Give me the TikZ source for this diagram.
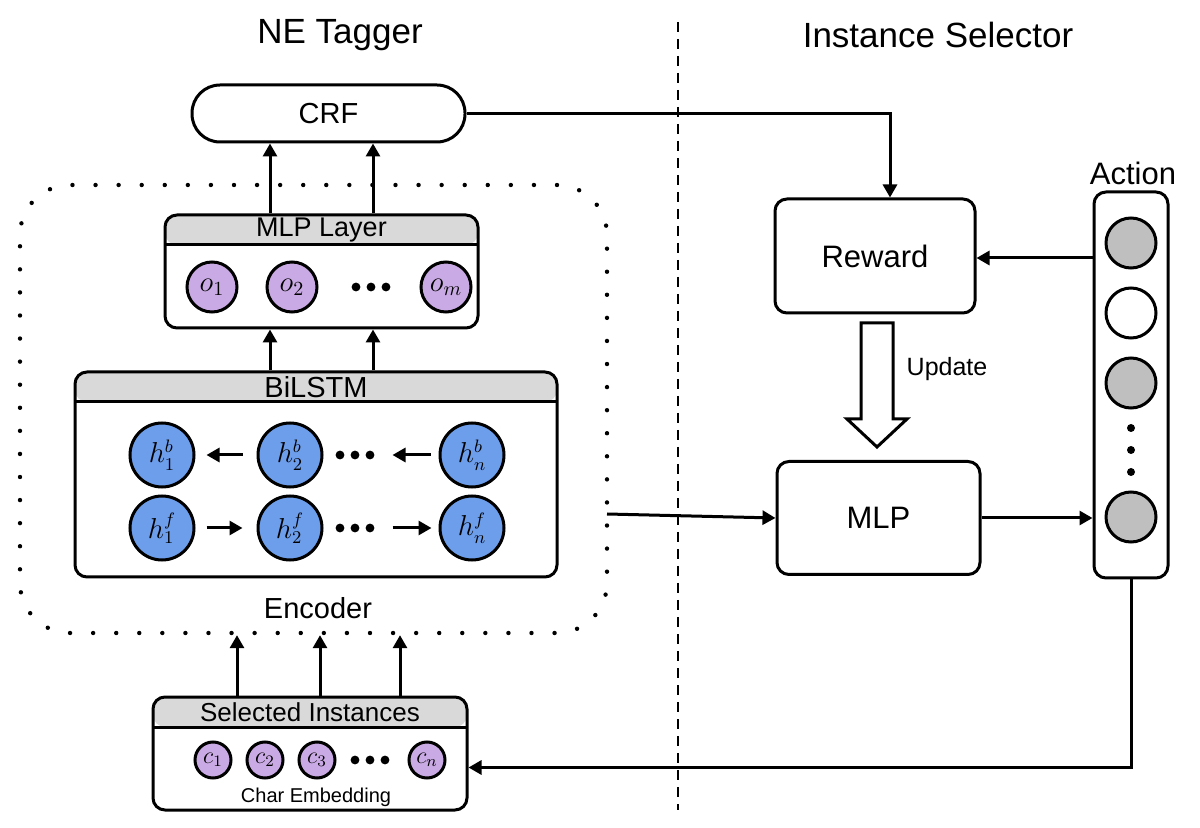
\documentclass[tikz,border=0pt]{standalone}
\usepackage{fontspec}
\setmainfont{Liberation Sans}
\usetikzlibrary{arrows.meta,calc}
\definecolor{hdr}{RGB}{217,217,217}
\definecolor{purp}{RGB}{202,170,228}
\definecolor{hblue}{RGB}{109,158,235}
\definecolor{agray}{RGB}{191,191,191}
\newcommand{\fs}[1]{\fontsize{#1}{#1}\selectfont}
\tikzset{
  lw/.style={line width=1.5pt},
  arr/.style={line width=1.5pt,-{Triangle[length=6.5pt,width=7pt]}},
  box/.style={draw,line width=1.5pt,rounded corners=6pt,fill=white,inner sep=0pt},
  hbox/.style={box,path picture={
      \fill[hdr] (path picture bounding box.north west) rectangle ([yshift=-#1]path picture bounding box.north east);
      \draw[line width=1.5pt] ([yshift=-#1]path picture bounding box.north west) -- ([yshift=-#1]path picture bounding box.north east);}},
  ocirc/.style={circle,draw,line width=1.5pt,fill=purp,minimum size=25pt,inner sep=0pt,font=\fs{14pt}},
  hcirc/.style={circle,draw,line width=1.5pt,fill=hblue,minimum size=32pt,inner sep=0pt,font=\fs{13.5pt}},
  ccirc/.style={circle,draw,line width=1.5pt,fill=purp,minimum size=18pt,inner sep=0pt,font=\fs{12pt}},
  acirc/.style={circle,draw,line width=1.5pt,minimum size=25pt,inner sep=0pt},
  encframe/.style={draw,line width=2.2pt,line cap=round,dash pattern=on 0pt off 11.536pt,rounded corners=25pt,inner sep=0pt},
  sepline/.style={line width=1pt,dash pattern=on 5pt off 3.5pt},
  dotmark/.style={fill=black},
}
\begin{document}
\begin{tikzpicture}[x=0.5pt,y=-0.5pt]
\useasboundingbox (0,0) rectangle (1200,828);

% titles
\node[font=\fs{17.5pt}] (t1) at (340,35) {NE Tagger};
\node[font=\fs{17.5pt}] (t2) at (938,35) {Instance Selector};
\draw[sepline] (678,22) -- (678,810);

% encoder frame
\node[encframe,minimum width=293.5pt,minimum height=224pt] (encbox) at (313.5,409) {};
\node[font=\fs{14.5pt}] (enclab) at (318,608) {Encoder};

% CRF
\node[box,rounded corners=14pt,minimum width=136.5pt,minimum height=28.5pt,font=\fs{14.5pt}] (crf) at (328.5,113.5) {CRF};

% MLP layer
\node[hbox=15pt,minimum width=156.5pt,minimum height=56.5pt] (mlpl) at (321.5,271.5) {};
\node[font=\fs{13.5pt}] (mlplab) at (321.5,230) {MLP Layer};
\node[ocirc] (o1) at (212,287) {$o_1$};
\node[ocirc] (o2) at (292,287) {$o_2$};
\node[ocirc] (om) at (446,287) {$o_m$};
\foreach \x in {356,371,386} \fill[dotmark] (\x,287) circle (2.2pt);

% BiLSTM
\node[hbox=15pt,minimum width=241pt,minimum height=102.5pt] (bil) at (316,474.5) {};
\node[font=\fs{14.5pt}] (billab) at (316,387) {BiLSTM};
\node[hcirc] (h1b) at (162,455) {$h_1^b$};
\node[hcirc] (h2b) at (290,455) {$h_2^b$};
\node[hcirc] (hnb) at (472,455) {$h_n^b$};
\node[hcirc] (h1f) at (162,528) {$h_1^f$};
\node[hcirc] (h2f) at (290,528) {$h_2^f$};
\node[hcirc] (hnf) at (472,528) {$h_n^f$};
\foreach \x in {340,355,370} {\fill[dotmark] (\x,455) circle (2.2pt); \fill[dotmark] (\x,528) circle (2.2pt);}
\draw[arr] ([xshift=-7pt]h2b.west) -- ([xshift=5.5pt]h1b.east);
\draw[arr] ([xshift=5.5pt]h1f.east) -- ([xshift=-7pt]h2f.west);
\coordinate (nbs) at ($(hnb.west)+(-8,0)$);
\draw[arr] (nbs) -- ++(-38,0);
\coordinate (nfs) at ($(hnf.west)+(-46,0)$);
\draw[arr] (nfs) -- ($(hnf.west)+(-7,0)$);

% arrows BiLSTM -> MLP layer -> CRF
\coordinate (m1) at ($(mlpl.north)+(-51.5,0)$);
\coordinate (m2) at ($(mlpl.north)+(51.5,0)$);
\draw[arr] (m1) -- (m1 |- crf.south);
\draw[arr] (m2) -- (m2 |- crf.south);
\draw[arr] (m1 |- bil.north) -- (m1 |- mlpl.south);
\draw[arr] (m2 |- bil.north) -- (m2 |- mlpl.south);

% Selected instances
\node[hbox=15pt,minimum width=157pt,minimum height=56.5pt] (sel) at (310,753.5) {};
\node[font=\fs{13pt}] (sellab) at (310,712) {Selected Instances};
\node[ccirc] (c1) at (213,760) {$c_1$};
\node[ccirc] (c2) at (265,760) {$c_2$};
\node[ccirc] (c3) at (317,760) {$c_3$};
\node[ccirc] (cn) at (427,760) {$c_n$};
\foreach \x in {355,370,385} \fill[dotmark] (\x,760) circle (2.2pt);
\node[font=\fs{10pt}] (charlab) at (316,797) {Char Embedding};
\coordinate (s1) at ($(sel.north)+(-73,0)$);
\coordinate (s2) at ($(sel.north)+(10,0)$);
\coordinate (s3) at ($(sel.north)+(90,0)$);
\draw[arr] (s1) -- (s1 |- encbox.south);
\draw[arr] (s2) -- (s2 |- encbox.south);
\draw[arr] (s3) -- (s3 |- encbox.south);

% Instance selector
\node[box,minimum width=100pt,minimum height=57pt,font=\fs{15.5pt}] (reward) at (875,256) {Reward};
\node[box,minimum width=101.5pt,minimum height=56.5pt,font=\fs{15.5pt}] (mlp) at (878.5,518) {MLP};
\node[box,minimum width=37pt,minimum height=193pt] (action) at (1131,385) {};
\node[font=\fs{15.5pt}] (actlab) at (1133,173) {Action};
\node[acirc,fill=agray] (a1) at (1131,243) {};
\node[acirc,fill=white] (a2) at (1131,313) {};
\node[acirc,fill=agray] (a3) at (1131,383) {};
\node[acirc,fill=agray] (a4) at (1131,517) {};
\foreach \y in {428,450,472} \fill[dotmark] (1131,\y) circle (2pt);

% Update block arrow
\draw[lw,fill=white,line join=miter] (861,323) -- (893,323) -- (893,419) -- (907,419) -- (877,447) -- (847,419) -- (861,419) -- cycle;
\node[font=\fs{12.5pt}] (updlab) at (947,369) {Update};

% connectors
\draw[arr] (crf.east) -| ([xshift=7.5pt]reward.north);
\draw[arr] (action.west |- 0,258) -- (reward.east |- 0,258);
\draw[arr] (mlp.east) -- (mlp.east -| action.west);
\coordinate (encout) at (607,514);
\draw[arr] (encout) -- (mlp.west);
\draw[arr] (action.south) |- ([yshift=-7pt]sel.east);
\end{tikzpicture}
\end{document}
